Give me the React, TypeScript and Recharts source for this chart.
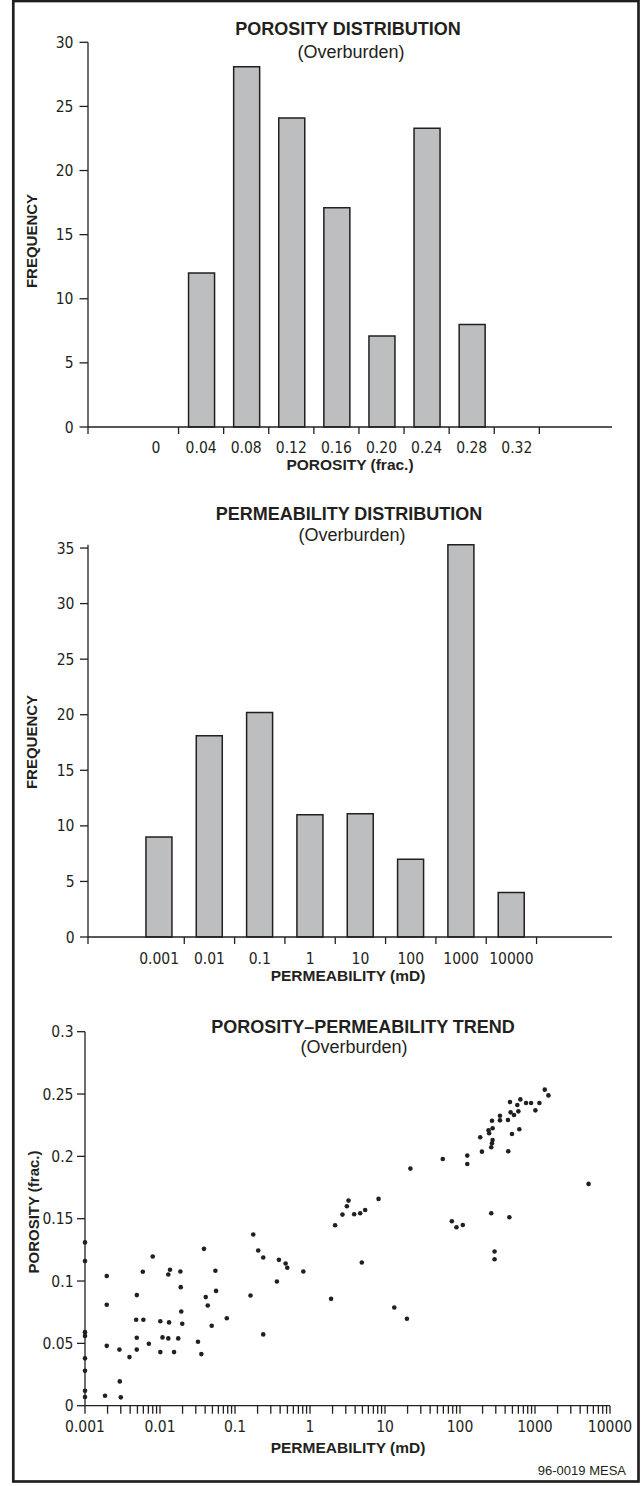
import { BarChart, Bar, XAxis, YAxis, ScatterChart, Scatter } from 'recharts'

const INK = '#231f20'
const BAR_FILL = '#bcbec0'
const FONT = '"Liberation Sans", Arial, Helvetica, sans-serif'
const TICK_FONT = '"Liberation Sans Narrow", "Arial Narrow", "DejaVu Sans Condensed", sans-serif'

// porosity histogram (overburden)
const porosityBins = ['0', '0.04', '0.08', '0.12', '0.16', '0.20', '0.24', '0.28', '0.32']
const porosityFreq = [0, 12, 28.1, 24.1, 17.1, 7.1, 23.3, 8, 0]
const porosityTicks = [0, 5, 10, 15, 20, 25, 30]

// permeability histogram (overburden)
const permBins = ['0.001', '0.01', '0.1', '1', '10', '100', '1000', '10000']
const permFreq = [9, 18.1, 20.2, 11, 11.1, 7, 35.3, 4]
const permTicks = [0, 5, 10, 15, 20, 25, 30, 35]

// porosity-permeability cross plot
const trendPerm = [
  0.001, 0.001, 0.001, 0.001, 0.001, 0.001, 0.001, 0.001,
  0.00195, 0.00195, 0.00195, 0.00185, 0.00288, 0.00291, 0.003, 0.00392,
  0.00491, 0.00481, 0.0049, 0.0049, 0.0059, 0.006, 0.0071, 0.008,
  0.0101, 0.0101, 0.0108, 0.0129, 0.0136, 0.0132, 0.0129, 0.0154,
  0.0175, 0.0187, 0.0189, 0.0192, 0.0198, 0.0321, 0.0356, 0.0386,
  0.0407, 0.0433, 0.0489, 0.0548, 0.0559, 0.0777, 0.161, 0.175,
  0.204, 0.238, 0.238, 0.362, 0.385, 0.473, 0.498, 0.815,
  1.91, 2.16, 2.71, 3.1, 3.26, 3.88, 4.67, 4.91, 5.44, 8.2,
  13.3, 19.6, 21.8, 58.9, 77.8, 89.8, 109, 125, 125, 186, 196,
  240, 245, 261, 267, 272, 272, 267, 261, 289, 289, 341, 341,
  436, 440, 455, 464, 473, 493, 525, 581, 600, 618, 638,
  760, 887, 1012, 1145, 1349, 1510, 5180,
]
const trendPoro = [
  0.131, 0.116, 0.059, 0.056, 0.038, 0.028, 0.012, 0.007,
  0.104, 0.081, 0.048, 0.008, 0.045, 0.0195, 0.0067, 0.039,
  0.0887, 0.069, 0.0545, 0.045, 0.1074, 0.069, 0.0497, 0.1197,
  0.0678, 0.043, 0.0548, 0.1052, 0.109, 0.0668, 0.054, 0.043,
  0.054, 0.1076, 0.0951, 0.0756, 0.0657, 0.0513, 0.0414, 0.1258,
  0.0871, 0.0804, 0.0641, 0.1082, 0.0921, 0.0702, 0.0884, 0.1373,
  0.1245, 0.1189, 0.0572, 0.0996, 0.117, 0.1141, 0.1106, 0.1076,
  0.0857, 0.1448, 0.1533, 0.16, 0.1645, 0.1536, 0.1544, 0.1149, 0.157, 0.1659,
  0.0788, 0.0697, 0.1902, 0.1979, 0.148, 0.1432, 0.145, 0.2006, 0.1939, 0.2153, 0.2038,
  0.2209, 0.2185, 0.1544, 0.2286, 0.2225, 0.2131, 0.2105, 0.2073, 0.1237, 0.1175, 0.2326, 0.2289,
  0.2292, 0.2041, 0.1512, 0.2436, 0.2353, 0.218, 0.2332, 0.2412, 0.2361, 0.2217, 0.2457,
  0.2428, 0.2428, 0.2369, 0.2428, 0.2535, 0.2489, 0.1779,
]
const logMajor = [0.001, 0.01, 0.1, 1, 10, 100, 1000, 10000]
const logMinorSteps = [2, 3, 4, 5, 6, 7, 8, 9]
const poroTicks = [0, 0.05, 0.1, 0.15, 0.2, 0.25, 0.3]

const porosityData = porosityBins.map((label, i) => ({ i, label, freq: porosityFreq[i] }))
const permData = permBins.map((label, i) => ({ i, label, freq: permFreq[i] }))
const trendData = trendPerm.map((perm, k) => ({ perm, poro: trendPoro[k] }))
const logTicks = [
  ...logMajor,
  ...logMajor.slice(0, -1).flatMap((d) => logMinorSteps.map((m) => +(d * m).toPrecision(3))),
].sort((a, b) => a - b)

const tickFont = { fontSize: 15.5, fill: INK, fontFamily: TICK_FONT }
const axisLine = { stroke: INK, strokeWidth: 1.3 }

// labels sit at bin centres (integer index), tick marks at the bin edges
const binTick = (labels: string[], size: number, margin: number) => (props: any) => {
  const { x, y, payload } = props
  const v = payload.value
  if (Number.isInteger(v)) {
    return (
      <text x={x} y={y} dy="0.71em" textAnchor="middle" {...tickFont}>
        {labels[v]}
      </text>
    )
  }
  const y0 = y - size - margin
  return <line x1={x} x2={x} y1={y0} y2={y0 + size} stroke={INK} strokeWidth={1.3} />
}

const edges = (n: number, min: number) => [min, ...Array.from({ length: n }, (_, k) => k + 0.5)]

function PorosityChart() {
  const domain = [-1.508, 10.111]
  const ticks = [...edges(porosityBins.length, domain[0]), ...porosityBins.map((_, i) => i)].sort((a, b) => a - b)
  return (
    <BarChart width={641} height={480} data={porosityData} margin={{ top: 42.3, right: 29, bottom: 23, left: 28 }}>
      <XAxis dataKey="i" type="number" domain={domain} ticks={ticks} interval={0} height={30}
        tickLine={false} tickSize={7} tickMargin={7.5} axisLine={axisLine}
        tick={binTick(porosityBins, 7, 7.5)} />
      <YAxis type="number" domain={[0, 30]} ticks={porosityTicks} width={60} interval={0}
        tickSize={8.5} tickMargin={6} tick={tickFont} axisLine={axisLine} tickLine={axisLine} />
      <Bar dataKey="freq" fill={BAR_FILL} stroke={INK} strokeWidth={1.5} barSize={26} isAnimationActive={false} />
    </BarChart>
  )
}

function PermeabilityChart() {
  const domain = [-1.413, 8.999]
  const ticks = [...edges(permBins.length, domain[0]), ...permBins.map((_, i) => i)].sort((a, b) => a - b)
  return (
    <BarChart width={641} height={500} data={permData} margin={{ top: 64.7, right: 29, bottom: 13, left: 28 }}>
      <XAxis dataKey="i" type="number" domain={domain} ticks={ticks} interval={0} height={30}
        tickLine={false} tickSize={7} tickMargin={9} axisLine={axisLine}
        tick={binTick(permBins, 7, 9)} />
      <YAxis type="number" domain={[0, 35.3]} ticks={permTicks} width={60} interval={0}
        tickSize={8} tickMargin={5.5} tick={tickFont} axisLine={axisLine} tickLine={axisLine} />
      <Bar dataKey="freq" fill={BAR_FILL} stroke={INK} strokeWidth={1.5} barSize={26} isAnimationActive={false} />
    </BarChart>
  )
}

const Dot = (props: any) => <circle cx={props.cx} cy={props.cy} r={2.3} fill={INK} />

function TrendChart() {
  return (
    <ScatterChart width={641} height={506} margin={{ top: 51.7, right: 31, bottom: 50.3, left: 25 }}>
      <XAxis dataKey="perm" type="number" scale="log" domain={[0.001, 10000]} ticks={logTicks} interval={0}
        height={30} tickSize={8} tickMargin={7.5} axisLine={axisLine} tickLine={axisLine} tick={tickFont}
        tickFormatter={(v: number) => (logMajor.includes(v) ? String(v) : '')} />
      <YAxis dataKey="poro" type="number" domain={[0, 0.3]} ticks={poroTicks} width={60} interval={0}
        tickSize={8} tickMargin={3.5} tick={tickFont} axisLine={axisLine} tickLine={axisLine} />
      <Scatter data={trendData} shape={Dot} isAnimationActive={false} />
    </ScatterChart>
  )
}

const Title = ({ x, y, size = 18, bold = true, children }: any) => (
  <text x={x} y={y} textAnchor="middle" fontSize={size} fontWeight={bold ? 'bold' : 'normal'} fill={INK} fontFamily={FONT}>
    {children}
  </text>
)

const SideLabel = ({ x, y, children }: any) => (
  <text x={x} y={y} textAnchor="middle" fontSize={15} fontWeight="bold" fill={INK} fontFamily={FONT}
    transform={`rotate(-90 ${x} ${y})`}>
    {children}
  </text>
)

export default function App() {
  return (
    <div style={{ position: 'absolute', left: 0, top: 0, width: 641, height: 1486, background: '#fff', fontFamily: FONT }}>
      <div style={{ position: 'absolute', left: 0, top: 0 }}><PorosityChart /></div>
      <div style={{ position: 'absolute', left: 0, top: 480 }}><PermeabilityChart /></div>
      <div style={{ position: 'absolute', left: 0, top: 980 }}><TrendChart /></div>
      <svg width={641} height={1486} style={{ position: 'absolute', left: 0, top: 0, pointerEvents: 'none' }}>
        <rect x={13.3} y={1} width={625.2} height={1480.5} fill="none" stroke={INK} strokeWidth={2.7} />

        <Title x={348} y={35}>POROSITY DISTRIBUTION</Title>
        <Title x={351} y={58} bold={false}>(Overburden)</Title>
        <Title x={350} y={470} size={15.5}>POROSITY (frac.)</Title>
        <SideLabel x={37.4} y={241}>FREQUENCY</SideLabel>

        <Title x={349} y={520}>PERMEABILITY DISTRIBUTION</Title>
        <Title x={352} y={541} bold={false}>(Overburden)</Title>
        <Title x={348} y={981} size={15.5}>PERMEABILITY (mD)</Title>
        <SideLabel x={37.4} y={742}>FREQUENCY</SideLabel>

        <Title x={363} y={1033}>POROSITY–PERMEABILITY TREND</Title>
        <Title x={354} y={1053} bold={false}>(Overburden)</Title>
        <Title x={348} y={1452.7} size={15.5}>PERMEABILITY (mD)</Title>
        <SideLabel x={39} y={1212}>POROSITY (frac.)</SideLabel>

        <text x={626} y={1475} textAnchor="end" fontSize={13} fill={INK} fontFamily={FONT}>96-0019 MESA</text>
      </svg>
    </div>
  )
}
